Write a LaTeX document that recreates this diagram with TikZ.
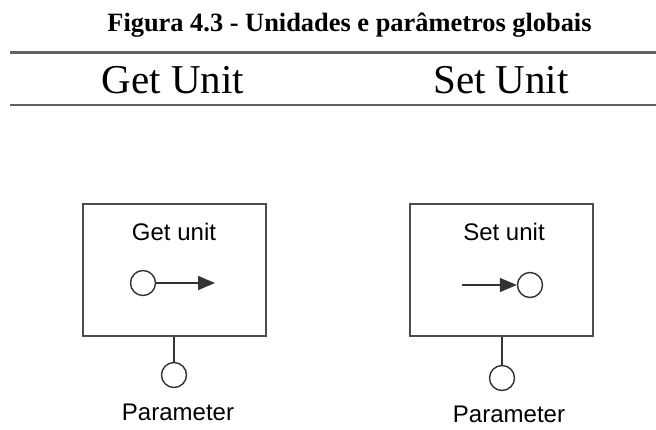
\documentclass[tikz,border=0pt]{standalone}
\usepackage{fontspec}
\setmainfont{Liberation Serif}
\newfontfamily\boxfont{Liberation Sans}
\usetikzlibrary{arrows.meta}

\begin{document}
\begin{tikzpicture}[x=1pt,y=-1pt,
  rule/.style={draw=black!62,line width=2.2pt},
  caption/.style={anchor=base,inner sep=0pt,font=\fontsize{26.4}{30}\selectfont\bfseries},
  heading/.style={anchor=base,inner sep=0pt,font=\fontsize{41}{46}\selectfont},
  unitbox/.style={draw=black!70,line width=2pt,fill=white,minimum width=183pt,minimum height=132pt,inner sep=0pt},
  boxlabel/.style={anchor=base,inner sep=0pt,font=\boxfont\fontsize{24}{28}\selectfont},
  port/.style={circle,draw=black!80,line width=1.4pt,fill=white,minimum size=25pt,inner sep=0pt},
  wire/.style={draw=black!80,line width=1.6pt},
  flow/.style={wire,-{Triangle[length=17pt,width=14pt]}}]

  \useasboundingbox (0,0) rectangle (656,429);

  % caption and table header
  \node[caption] (cap) at (349.5,31) {Figura 4.3 - Unidades e parâmetros globais};
  \coordinate (r1a) at (10,52.5);
  \coordinate (r1b) at (656,52.5);
  \coordinate (r2a) at (10,105);
  \coordinate (r2b) at (656,105);
  \draw[rule] (r1a) -- (r1b);
  \draw[rule] (r2a) -- (r2b);
  \node[heading] (hget) at (173,93) {Get Unit};
  \node[heading] (hset) at (501,93) {Set Unit};

  % Get unit block
  \node[unitbox] (getbox) at (174,270) {};
  \node[boxlabel] (getlbl) at (174,240) {Get unit};
  \node[port] (getsrc) at (143,283) {};
  \coordinate (gettip) at (215,283);
  \draw[flow] (getsrc) -- (gettip);
  \node[port] (getpar) at (174,375) {};
  \draw[wire] (getbox.south) -- (getpar);
  \node[boxlabel] (getparlbl) at (178,420) {Parameter};

  % Set unit block
  \node[unitbox] (setbox) at (501.5,270) {};
  \node[boxlabel] (setlbl) at (504,240) {Set unit};
  \coordinate (settail) at (462,285);
  \node[port] (setdst) at (530,285) {};
  \draw[flow] (settail) -- (setdst);
  \node[port] (setpar) at (502,378) {};
  \draw[wire] (setbox.south -| setpar) -- (setpar);
  \node[boxlabel] (setparlbl) at (509,422) {Parameter};
\end{tikzpicture}
\end{document}
